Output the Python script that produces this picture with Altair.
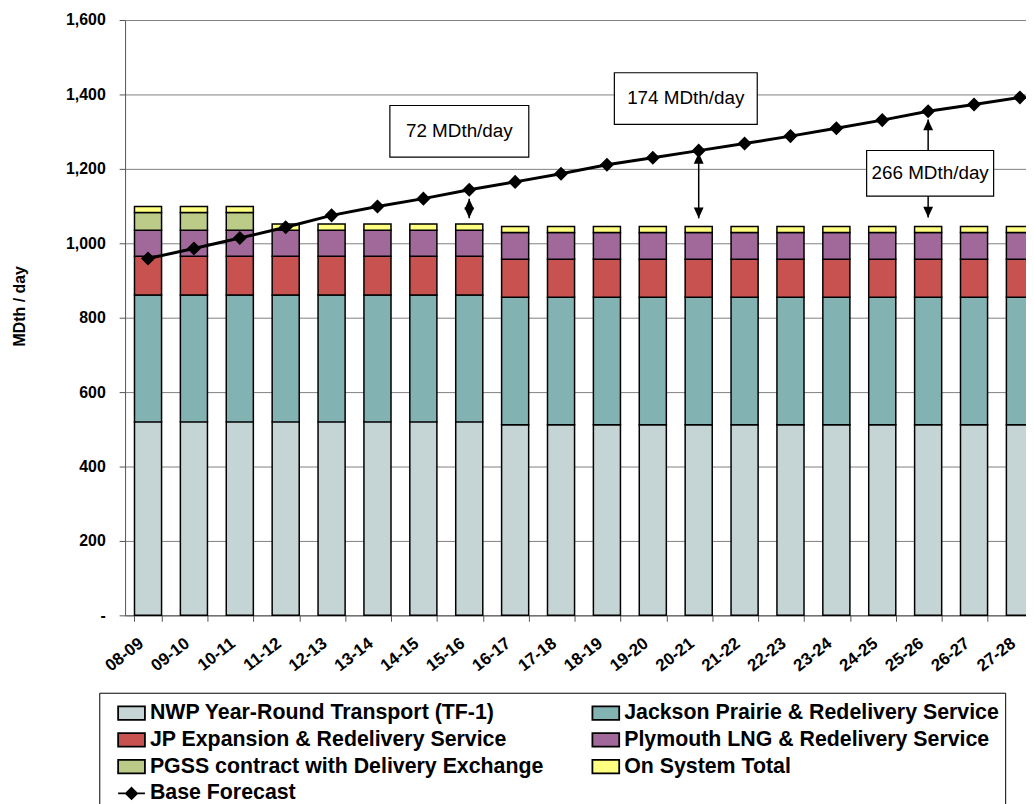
import altair as alt
import pandas as pd

# ---------------- data ----------------
cats = ["08-09", "09-10", "10-11", "11-12", "12-13", "13-14", "14-15", "15-16", "16-17", "17-18",
        "18-19", "19-20", "20-21", "21-22", "22-23", "23-24", "24-25", "25-26", "26-27", "27-28"]

series = ["NWP Year-Round Transport (TF-1)", "Jackson Prairie & Redelivery Service",
          "JP Expansion & Redelivery Service", "Plymouth LNG & Redelivery Service",
          "PGSS contract with Delivery Exchange", "On System Total"]
line_name = "Base Forecast"

nwp = [520, 520, 520, 520, 520, 520, 520, 520, 512, 512, 512, 512, 512, 512, 512, 512, 512, 512, 512, 512]
jackson = [341, 341, 341, 341, 341, 341, 341, 341, 343, 343, 343, 343, 343, 343, 343, 343, 343, 343, 343, 343]
jp_exp = [104, 104, 104, 104, 104, 104, 104, 104, 102, 102, 102, 102, 102, 102, 102, 102, 102, 102, 102, 102]
plymouth = [70, 70, 70, 70, 70, 70, 70, 70, 72, 72, 72, 72, 72, 72, 72, 72, 72, 72, 72, 72]
pgss = [48, 48, 48, 0, 0, 0, 0, 0, 0, 0, 0, 0, 0, 0, 0, 0, 0, 0, 0, 0]
on_system = [16, 16, 16, 17, 17, 17, 17, 17, 16, 16, 16, 16, 16, 16, 16, 16, 16, 16, 16, 16]

base_forecast = [959, 986, 1014, 1043, 1075, 1099, 1120, 1144, 1165, 1187,
                 1211, 1230, 1249, 1268, 1288, 1309, 1331, 1355, 1373, 1392]

y_ticks = [0, 200, 400, 600, 800, 1000, 1200, 1400, 1600]

# annotation arrows: category, top tip value, bottom tip value
arrow_cats = ["15-16", "20-21", "25-26"]
arrow_top = [1120, 1243, 1333]
arrow_bottom = [1067, 1067, 1069]

# annotation boxes: category, centre value, text
box_cats = ["15-16", "20-21", "25-26"]
box_vals = [1301, 1389, 1188]
box_texts = ["72 MDth/day", "174 MDth/day", "266 MDth/day"]

series_colors = ["#C5D4D4", "#82B2B2", "#C85250", "#A0699A", "#BDCB88", "#FFFF80"]
line_color = "#000000"

# ---------------- tables ----------------
rows = []
for i, (name, vals) in enumerate(zip(series, [nwp, jackson, jp_exp, plymouth, pgss, on_system])):
    for c, v in zip(cats, vals):
        if v > 0:
            rows.append({"cat": c, "series": name, "val": v, "idx": i})
bar_df = pd.DataFrame(rows)
line_df = pd.DataFrame({"cat": cats, "val": base_forecast, "series": [line_name] * len(cats)})
arrow_df = pd.DataFrame({"cat": arrow_cats, "top": arrow_top, "bottom": arrow_bottom})

FONT = "Liberation Sans"
x_scale = alt.Scale(range=[0, 925], paddingInner=0.41, paddingOuter=0.205)
y_scale = alt.Scale(domain=[0, 1600], nice=False)

rect_path = "M-1,-0.5H1V0.5H-1Z"
line_path = "M-1,0H1M0,-0.42L0.42,0L0,0.42L-0.42,0Z"

# legend entries are laid out column by column: order them so rows read as in the original
legend_order = [series[0], series[2], series[4], line_name, series[1], series[3], series[5]]
legend_colors = [series_colors[0], series_colors[2], series_colors[4], line_color,
                 series_colors[1], series_colors[3], series_colors[5]]
legend_shapes = [line_path if n == line_name else rect_path for n in legend_order]

legend = alt.Legend(
    title=None, orient="none", legendX=-26, legendY=678, columns=2, columnPadding=36,
    rowPadding=2, symbolSize=729, symbolType=rect_path, symbolStrokeColor="black",
    symbolStrokeWidth=1.8, symbolOpacity=1, symbolOffset=12, labelFont=FONT, labelFontSize=21.5,
    labelFontWeight="bold", labelColor="black", labelLimit=600, labelOffset=4,
    strokeColor="black", padding=6)

color_scale = alt.Scale(domain=legend_order, range=legend_colors)
shape_scale = alt.Scale(domain=legend_order, range=legend_shapes)
stroke_scale = alt.Scale(domain=legend_order, range=["#000000"] * len(legend_order))

y_axis = alt.Axis(
    values=y_ticks, labelExpr="datum.value == 0 ? '-' : format(datum.value, ',')",
    title="MDth / day", titleFont=FONT, titleFontSize=16, titleFontWeight="bold",
    titleColor="black", titleX=-106, titleY=288, titleAngle=270, titleAlign="center",
    titleBaseline="middle")

bars = alt.Chart(bar_df).mark_bar(stroke="black", strokeWidth=1.5).encode(
    x=alt.X("cat:N", sort=cats, scale=x_scale, title=None),
    y=alt.Y("val:Q", stack="zero", scale=y_scale, axis=y_axis),
    color=alt.Color("series:N", scale=color_scale, legend=legend),
    order=alt.Order("idx:Q", sort="ascending"))

line = alt.Chart(line_df).mark_line(
    color="black", strokeWidth=3,
    point=alt.OverlayMarkDef(shape="diamond", size=200, filled=True, color="black", opacity=1)
).encode(x=alt.X("cat:N", sort=cats), y=alt.Y("val:Q"))

# empty layer that only contributes the legend symbol shapes and outlines
legend_layer = alt.Chart(line_df.iloc[0:0]).mark_point(
    filled=True, opacity=1, strokeWidth=1.8
).encode(
    x=alt.X("cat:N", sort=cats), y=alt.Y("val:Q"),
    color=alt.Color("series:N", scale=color_scale, legend=legend),
    shape=alt.Shape("series:N", scale=shape_scale, legend=legend),
    stroke=alt.Stroke("series:N", scale=stroke_scale, legend=legend))

rules = alt.Chart(arrow_df).mark_rule(color="black", strokeWidth=1.5).encode(
    x=alt.X("cat:N", sort=cats), y=alt.Y("top:Q"), y2="bottom:Q")
up_heads = alt.Chart(arrow_df).mark_point(
    shape="M0,0L-0.45,1L0.45,1Z", size=484, filled=True, color="black", opacity=1
).encode(x=alt.X("cat:N", sort=cats), y=alt.Y("top:Q"))
down_heads = alt.Chart(arrow_df).mark_point(
    shape="M0,0L-0.45,-1L0.45,-1Z", size=484, filled=True, color="black", opacity=1
).encode(x=alt.X("cat:N", sort=cats), y=alt.Y("bottom:Q"))

layers = [bars, legend_layer, line, rules, up_heads, down_heads]

# box geometry (pixels): width, height, horizontal offset
box_geom = [(140, 52, -10), (144, 52, -13), (128, 46, 2)]
for c, v, t, (w, h, dx) in zip(box_cats, box_vals, box_texts, box_geom):
    d = pd.DataFrame({"cat": [c], "val": [v], "txt": [t]})
    k = h / w
    box = alt.Chart(d).mark_point(
        shape=f"M-1,-{k:.4f}H1V{k:.4f}H-1Z", size=w * w, filled=True, fill="white",
        stroke="black", strokeWidth=1.2, opacity=1, xOffset=dx
    ).encode(x=alt.X("cat:N", sort=cats), y=alt.Y("val:Q"))
    txt = alt.Chart(d).mark_text(
        font=FONT, fontSize=19, color="black", dx=dx, align="center", baseline="middle"
    ).encode(x=alt.X("cat:N", sort=cats), y=alt.Y("val:Q"), text="txt:N")
    layers += [box, txt]

chart = alt.layer(*layers).properties(
    width=908, height=600,
    autosize=alt.AutoSizeParams(type="none"),
    padding={"left": 118, "top": 9, "right": 0, "bottom": 187},
).configure_view(stroke=None).configure_axisX(
    labelAngle=-38, labelAlign="right", labelBaseline="middle",
    labelFont=FONT, labelFontSize=17, labelFontWeight="bold", labelColor="black",
    labelPadding=20, labelOffset=-7, tickBand="extent", tickSize=6, tickColor="#555555",
    domainColor="#555555", labelOverlap=False, grid=False
).configure_axisY(
    titleFont=FONT, titleFontSize=16, titleFontWeight="bold", titleColor="black",
    labelFont=FONT, labelFontSize=16, labelFontWeight="bold", labelColor="black",
    labelPadding=14, tickSize=6, tickColor="#555555", domainColor="#555555",
    grid=True, gridColor="#808080", gridWidth=1
)

chart.save("out.html", embed_options={"renderer": "svg", "actions": False})
